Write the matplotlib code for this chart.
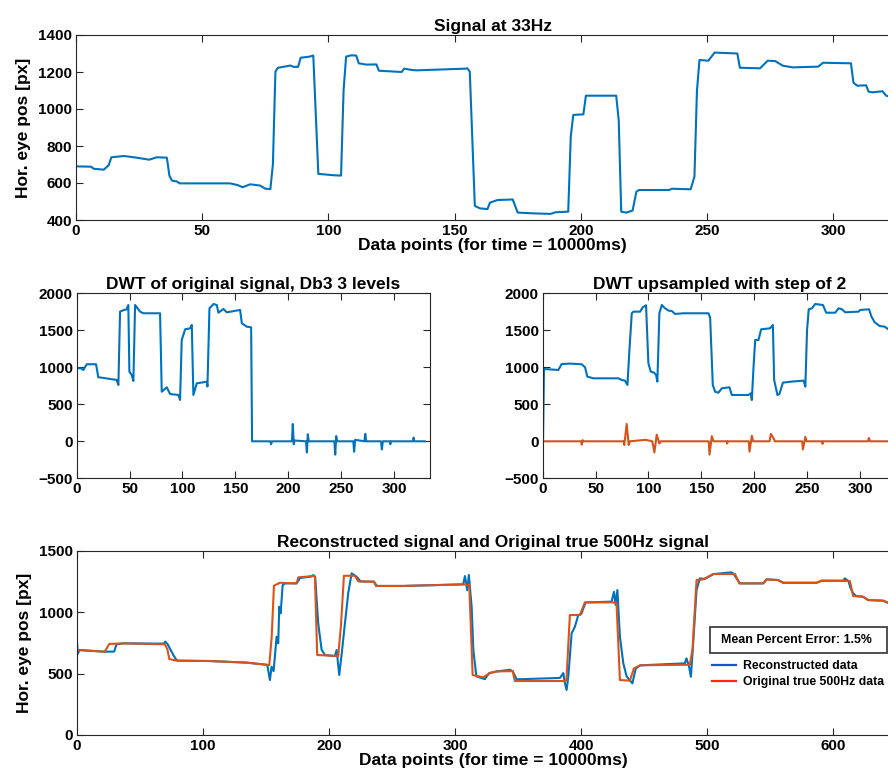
import matplotlib
matplotlib.use('Agg')
import matplotlib.pyplot as plt
from matplotlib.lines import Line2D
from matplotlib.patches import Rectangle

# MATLAB-like look
plt.rcParams['font.family'] = ['Liberation Sans', 'DejaVu Sans']
plt.rcParams['font.weight'] = 'bold'
plt.rcParams['axes.titleweight'] = 'bold'
plt.rcParams['axes.labelweight'] = 'bold'

BLUE = '#0072BD'
ORANGE = '#D95319'
AXC = '#262626'

# --- Signal at 33Hz (vertices) ---
sig_x = [0, 6, 7, 11, 13, 14, 19, 24, 29, 32, 36, 37, 38, 40, 41, 61, 64, 66, 69, 73, 75, 77,
         78, 79, 80, 85, 86, 88, 89, 92.5, 94, 96, 98, 102, 105, 106, 107, 109, 111, 112, 115,
         119, 120, 129, 130, 133, 135, 154, 155, 156, 158, 160, 163, 164, 167, 173, 175, 181,
         188, 190, 195, 196, 197, 201, 202, 214, 215, 216, 218, 220.5, 222, 223, 235, 236,
         243.5, 245, 246, 247, 250.5, 253, 262, 263, 271, 274, 277, 280, 284, 294, 296, 307,
         308, 309.5, 313, 314, 315.5, 319.5, 321, 325, 330]
sig_y = [690, 688, 677, 672, 697, 739, 746, 737, 726, 739, 737, 640, 613, 608, 598, 598, 589,
         577, 593, 586, 569, 567, 700, 1202, 1223, 1235, 1228, 1228, 1277, 1283, 1289, 649, 647,
         642, 640, 1100, 1283, 1290, 1289, 1247, 1240, 1241, 1207, 1200, 1218, 1211, 1209, 1218,
         1220, 1202, 476, 463, 459, 494, 508, 511, 440, 436, 433, 442, 445, 850, 968, 971, 1072,
         1072, 940, 445, 440, 451, 553, 562, 562, 569, 566, 634, 1100, 1265, 1261, 1305, 1300,
         1223, 1220, 1261, 1259, 1234, 1225, 1229, 1250, 1247, 1142, 1126, 1128, 1094, 1090,
         1096, 1071, 1068, 1070]

# --- DWT of original signal, Db3 3 levels ---
dwt_x = [0, 4, 6.3, 9.5, 18.3, 20.4, 23.5, 37.8, 39.4, 41, 44.7, 47, 48.8, 49.8, 52, 53.6, 55.2,
         59.9, 63, 78.8, 80.4, 85.1, 88.3, 96.1, 97.7, 99.3, 102.5, 107.2, 108.8, 110.3, 113.5,
         123, 123.6, 125.5, 129.3, 132.4, 134, 138.7, 141.9, 154.5, 156.1, 160.8, 164.9, 165.8,
         183, 183.8, 184.6, 203.5, 204.3, 205.2, 206, 216.8, 217.6, 218.5, 219.4, 243.6, 244.4,
         245.3, 246.2, 261.5, 262.3, 263.2, 272, 272.8, 273.7, 287.7, 288.5, 289.4, 296, 296.5,
         297, 318, 318.5, 319.2, 329]
dwt_y = [990, 985, 964, 1041, 1041, 865, 860, 829, 761, 1752, 1775, 1780, 1842, 941, 896, 815,
         1842, 1752, 1730, 1730, 670, 730, 639, 626, 558, 1369, 1513, 1527, 1572, 626, 784, 805,
         740, 1797, 1855, 1842, 1738, 1788, 1743, 1775, 1594, 1549, 1540, 0,
         0, -40, 0, 0, 234, -40, 10, 0, -150, 95, 0, 0, -180, 70, 0, 0, -140, 20, 0, 100, 0,
         0, -110, 0, 0, -40, 0, 0, 50, 0, 0]

# --- DWT upsampled with step of 2 ---
up_a_x = [0, 0.3, 1.2, 14.8, 17.9, 25.8, 36.9, 40, 42.2, 47.9, 71.5, 74.7, 77.8, 80.1, 82, 84.2,
          85.8, 92.1, 94.6, 97.7, 99.9, 102.2, 105.3, 107.2, 108.4, 110.3, 112.6, 115.7, 118.9,
          122, 125.2, 133, 156.7, 158.3, 160.8, 163, 166.1, 169.3, 176.5, 178.8, 194.5, 196.7,
          197.7, 199.3, 200.9, 204, 206.5, 215, 217.6, 218.8, 221.9, 223.8, 227.1, 234.1, 246.7,
          248.3, 249.9, 251.5, 254.6, 257.6, 264.9, 268, 276.6, 279.7, 282.9, 286, 298.6, 300.2,
          308.5, 310.8, 313.9, 318.6, 323.4, 326.7, 330]
up_a_y = [0, 0, 977, 964, 1044, 1050, 1041, 1000, 874, 851, 851, 829, 820, 761, 1234, 1730,
          1752, 1752, 1811, 1838, 1054, 941, 928, 896, 806, 1730, 1842, 1797, 1766, 1761, 1721,
          1730, 1730, 1671, 761, 670, 657, 716, 730, 626, 626, 648, 558, 1000, 1369, 1369, 1513,
          1527, 1572, 829, 626, 639, 793, 805, 820, 740, 1504, 1784, 1797, 1855, 1842, 1738,
          1738, 1797, 1784, 1743, 1752, 1775, 1784, 1685, 1608, 1558, 1549, 1513, 1500]
up_d_x = [0, 36.3, 36.9, 37.8, 38.5, 76.5, 77.1, 79.4, 81.3, 82.5, 97.3, 103.6, 105.6, 107.8,
          110.3, 111.5, 157, 157.7, 159.9, 161.5, 174, 174.4, 175, 194.8, 195.5, 197.7, 199,
          214.5, 215.7, 218.3, 219.5, 245.3, 246, 248.3, 249.5, 264, 264.6, 265.2, 307.5, 308.4,
          309.5, 334]
up_d_y = [0, 0, -45, 15, 0, 0, -50, 234, -50, 0, 20, 0, -150, 90, -30, 0, 0, -180, 70, 0, 0,
          -30, 0, 0, -140, 75, 0, 0, 100, 40, 0, 0, -110, 60, 0, 0, -35, 0, 0, 45, 0, 0]

# --- Reconstructed vs original 500Hz ---
rec_x = [0, 0.7, 2, 22, 29.5, 31.5, 36.8, 69, 70, 72, 74, 76.5, 78.6, 80, 105.5, 134.7, 151,
         153.1, 154.4, 156, 158.4, 159.7, 160.5, 161.6, 163.2, 165, 174.3, 177, 186, 187.5, 189,
         191.4, 194.1, 196.7, 204.6, 206, 208.1, 210, 212.6, 215.2, 217.9, 221.9, 225, 235.6,
         238, 258.9, 306.4, 307.8, 309.6, 310.9, 312.2, 313.1, 314.4, 316.4, 317, 323.6, 327,
         333, 343.4, 345.6, 348.8, 383.1, 385.8, 387.1, 388.4, 389.8, 392.4, 395, 397.7, 400,
         403.5, 424.1, 426, 427.3, 428.7, 430.7, 433.4, 436, 440.6, 443.3, 447, 482.2, 483.5,
         485.5, 487, 488.5, 491.5, 494.1, 498, 505, 519.3, 521, 525.9, 544.4, 547.1, 556.2,
         560.2, 586.7, 590.6, 608, 609.1, 612, 613.5, 615.7, 618, 623.6, 627.6, 639.5, 643, 660]
rec_y = [770, 660, 693, 679, 680, 740, 747, 745, 762, 740, 700, 652, 617, 606, 603, 590, 572,
         448, 557, 520, 801, 747, 1046, 992, 1222, 1236, 1236, 1280, 1292, 1304, 1290, 910, 695,
         652, 644, 693, 489, 660, 910, 1155, 1318, 1290, 1252, 1250, 1215, 1215, 1228, 1296,
         1180, 1305, 1150, 1046, 700, 516, 478, 455, 505, 518, 532, 521, 454, 465, 505, 421,
         367, 480, 829, 883, 978, 985, 1081, 1087, 1168, 1060, 1182, 801, 584, 478, 421, 543,
         568, 584, 625, 560, 475, 700, 1182, 1277, 1272, 1312, 1326, 1312, 1236, 1236, 1269,
         1263, 1241, 1241, 1258, 1258, 1277, 1255, 1200, 1155, 1133, 1127, 1100, 1095, 1079,
         1070]
true_x = [0, 22, 25.7, 36.8, 69.9, 71.7, 73.3, 79.1, 105.5, 134.7, 152.6, 154.5, 156.3, 161,
          174.3, 175.6, 187.5, 188.8, 190.6, 207.3, 209.5, 211.8, 220.5, 223.2, 235.6, 237.2,
          258.9, 306.4, 311.2, 313.9, 322.3, 327.6, 332.9, 345.6, 347.4, 385.7, 388.3, 391, 399,
          402.9, 425.4, 428, 430.7, 438.6, 441.8, 446.6, 486.2, 488.3, 491.5, 496.8, 504.7, 522,
          525.4, 544.4, 547.1, 556.2, 560.2, 586.7, 590.6, 613.1, 615.7, 623.6, 627.6, 639.5,
          643, 660]
true_y = [693, 679, 742, 747, 739, 700, 619, 606, 603, 590, 570, 800, 1217, 1241, 1236, 1285,
          1296, 1290, 652, 644, 900, 1298, 1298, 1252, 1250, 1215, 1215, 1228, 1225, 489, 470,
          505, 518, 521, 440, 440, 445, 978, 978, 1081, 1081, 1075, 448, 443, 543, 568, 573, 700,
          1263, 1269, 1312, 1312, 1236, 1236, 1269, 1263, 1241, 1241, 1258, 1255, 1133, 1127,
          1100, 1095, 1079, 1070]

mpe_text = 'Mean Percent Error: 1.5%'
legend_labels = ['Reconstructed data', 'Original true 500Hz data']
xlab = 'Data points (for time = 10000ms)'
ylab = 'Hor. eye pos [px]'

W, H = 888, 780
fig = plt.figure(figsize=(W / 100, H / 100), dpi=100)

TITLE_FS = 12.5
LABEL_FS = 12.5
TICK_FS = 11


def px_axes(x0, y0, x1, y1):
    # axes box given in pixel coords of the picture (may run past right edge)
    return fig.add_axes([x0 / W, 1 - y1 / H, (x1 - x0) / W, (y1 - y0) / H])


def style(ax):
    for s in ax.spines.values():
        s.set_color(AXC)
        s.set_linewidth(0.8)
    ax.tick_params(direction='in', length=5, width=0.8, color=AXC, top=True, right=True,
                   labelsize=TICK_FS, pad=3, labelcolor='black')


ax1 = px_axes(76, 35, 909, 220)
ax1.plot(sig_x, sig_y, color=BLUE, lw=1.5)
ax1.set_xlim(0, 330)
ax1.set_ylim(400, 1400)
ax1.set_xticks(range(0, 301, 50))
ax1.set_yticks(range(400, 1401, 200))
ax1.set_title('Signal at 33Hz', fontsize=TITLE_FS, pad=3)
ax1.set_xlabel(xlab, fontsize=LABEL_FS, labelpad=0)
ax1.set_ylabel(ylab, fontsize=LABEL_FS, labelpad=5)
style(ax1)

ax2 = px_axes(76.7, 293.3, 430, 478.3)
ax2.plot(dwt_x, dwt_y, color=BLUE, lw=1.5)
ax2.set_xlim(0, 334)
ax2.set_ylim(-500, 2000)
ax2.set_xticks(range(0, 301, 50))
ax2.set_yticks(range(-500, 2001, 500))
ax2.set_title('DWT of original signal, Db3 3 levels', fontsize=TITLE_FS, pad=3)
style(ax2)

ax3 = px_axes(542.7, 293.3, 896, 478.3)
ax3.plot(up_a_x, up_a_y, color=BLUE, lw=1.5)
ax3.plot(up_d_x, up_d_y, color=ORANGE, lw=1.5)
ax3.set_xlim(0, 334)
ax3.set_ylim(-500, 2000)
ax3.set_xticks(range(0, 301, 50))
ax3.set_yticks(range(-500, 2001, 500))
ax3.set_title('DWT upsampled with step of 2', fontsize=TITLE_FS, pad=3)
style(ax3)

ax4 = px_axes(76.9, 551, 909, 735)
ax4.plot(rec_x, rec_y, color=BLUE, lw=1.5)
ax4.plot(true_x, true_y, color=ORANGE, lw=1.5)
ax4.set_xlim(0, 660)
ax4.set_ylim(0, 1500)
ax4.set_xticks(range(0, 601, 100))
ax4.set_yticks(range(0, 1501, 500))
ax4.set_title('Reconstructed signal and Original true 500Hz signal', fontsize=TITLE_FS, pad=3)
ax4.set_xlabel(xlab, fontsize=LABEL_FS, labelpad=0)
ax4.set_ylabel(ylab, fontsize=LABEL_FS, labelpad=5)
style(ax4)

# error box + hand-made legend
fig.patches.append(Rectangle((710 / W, 1 - 653 / H), 177 / W, 26 / H, transform=fig.transFigure,
                             fc='white', ec='#404040', lw=1.3, zorder=5))
fig.text(796 / W, 1 - 640 / H, mpe_text, fontsize=8.9, ha='center', va='center', zorder=6)
handles = [Line2D([], [], color='#1f50d0', lw=1.6), Line2D([], [], color='#ff2a00', lw=1.6)]
fig.legend(handles, legend_labels,
           loc='upper left', bbox_to_anchor=(712 / W, 1 - 660 / H), frameon=False,
           fontsize=8.8, handlelength=2.0, handletextpad=0.55, labelspacing=0.35,
           borderaxespad=0, borderpad=0)

fig.savefig('out.png', dpi=100)
